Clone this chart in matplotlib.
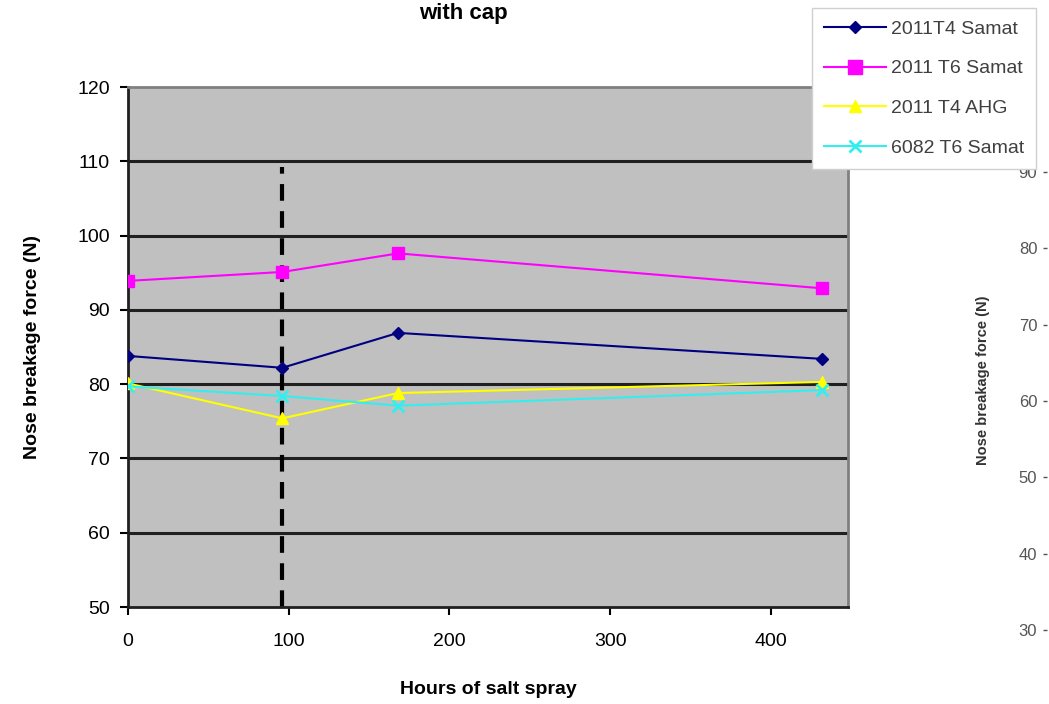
import matplotlib
matplotlib.use("Agg")
import matplotlib.pyplot as plt

plt.rcParams["font.family"] = ["Liberation Sans", "DejaVu Sans"]

# ── data ─────────────────────────────────────────────────────────────────────
hours = [0, 96, 168, 432]
t4_samat = [83.8, 82.2, 86.9, 83.4]
t6_samat = [93.9, 95.1, 97.6, 92.9]
t4_ahg = [80.1, 75.4, 78.8, 80.3]
t6_6082 = [79.7, 78.4, 77.1, 79.2]
series_labels = ["2011T4 Samat", "2011 T6 Samat", "2011 T4 AHG", "6082 T6 Samat"]
cap_line_hour = 96
y_ticks = [50, 60, 70, 80, 90, 100, 110, 120]
x_ticks = [0, 100, 200, 300, 400]
right_ticks = [30, 40, 50, 60, 70, 80, 90]

W, H = 1049, 704
fig = plt.figure(figsize=(W / 100, H / 100), dpi=100)

ax = fig.add_axes([128 / W, 1 - 607 / H, 720 / W, 520 / H])
ax.set_facecolor("#c0c0c0")
ax.set_xlim(0, 448)
ax.set_ylim(50, 120)

for y in y_ticks[1:-1]:
    ax.axhline(y, color="#202020", linewidth=2.2, zorder=1)

ax.vlines(cap_line_hour, 50, 109.2, colors="black", linestyles=(0, (4, 2.5)),
          linewidth=3, zorder=2)

ax.plot(hours, t4_samat, color="#000080", marker="D", markersize=6,
        linewidth=1.5, label=series_labels[0], zorder=4)
ax.plot(hours, t6_samat, color="#ff00ff", marker="s", markersize=9,
        linewidth=1.5, label=series_labels[1], zorder=4)
ax.plot(hours, t4_ahg, color="#ffff00", marker="^", markersize=8,
        linewidth=1.5, label=series_labels[2], zorder=4)
ax.plot(hours, t6_6082, color="#33eeee", marker="x", markersize=8,
        markeredgewidth=2, linewidth=1.5, label=series_labels[3], zorder=4)

ax.set_xticks(x_ticks)
ax.set_yticks(y_ticks)
ax.tick_params(axis="both", direction="out", length=6, width=1.5,
               labelsize=14, colors="black")
ax.tick_params(axis="x", pad=13)
ax.tick_params(axis="y", pad=7)
for side in ["left", "bottom"]:
    ax.spines[side].set_color("#202020")
    ax.spines[side].set_linewidth(2)
for side in ["top", "right"]:
    ax.spines[side].set_color("#808080")
    ax.spines[side].set_linewidth(2)

ax.set_xlabel("Hours of salt spray", fontsize=14, fontweight="bold", labelpad=22)
ax.set_ylabel("Nose breakage force (N)", fontsize=14, fontweight="bold", labelpad=26)
fig.text(463 / W, 1 - 14 / H, "with cap", fontsize=16, fontweight="bold",
         ha="center", va="center")

leg = fig.legend(loc="upper left", bbox_to_anchor=(812 / W, 1 - 8 / H),
                 frameon=True, fancybox=False, framealpha=1, edgecolor="#d0d0d0",
                 fontsize=14, labelcolor="#404040", handlelength=3.2,
                 labelspacing=1.14, borderpad=0.62, handletextpad=0.25,
                 borderaxespad=0, markerscale=1.1)
leg.set_zorder(10)

# neighbouring chart's axis visible at the right edge of the screenshot
ax2 = fig.add_axes([1047 / W, 1 - 630 / H, 0.002, 458 / H])
ax2.set_ylim(30, 90)
ax2.set_yticks(right_ticks)
ax2.set_xticks([])
for s in ax2.spines.values():
    s.set_visible(False)
ax2.set_facecolor("none")
ax2.tick_params(axis="y", direction="out", length=3, width=1, labelsize=12,
                colors="#555555", pad=4)
fig.text(983 / W, 1 - 380 / H, "Nose breakage force (N)", fontsize=10.5,
         fontweight="bold", rotation=90, ha="center", va="center", color="#333333")

fig.savefig("out.png", dpi=100)
